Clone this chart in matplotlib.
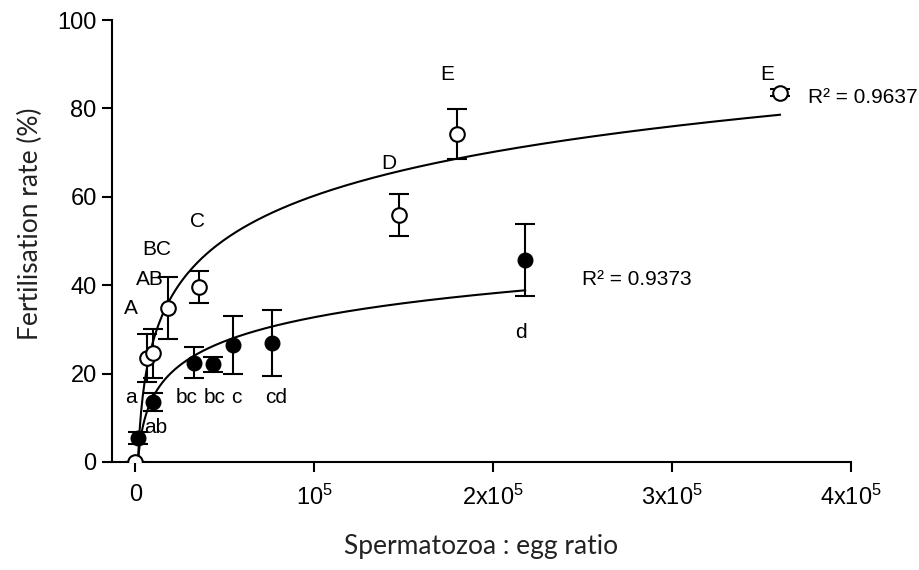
import numpy as np
import matplotlib.pyplot as plt

# sperm:egg ratio vs fertilisation rate, two treatments + log trendlines

# open circles (upper series)
x_open = [0, 6500, 9900, 18300, 35800, 147500, 180000, 360300]
y_open = [0, 23.5, 24.6, 34.8, 39.6, 55.9, 74.2, 83.5]
err_open = [0, 5.5, 5.5, 7.0, 3.6, 4.7, 5.7, 0.8]
letters_open = ['A', 'AB', 'BC', 'C', 'D', 'E', 'E']

# filled circles (lower series)
x_fill = [1800, 10200, 33100, 43700, 54900, 76700, 217900]
y_fill = [5.4, 13.5, 22.5, 22.1, 26.5, 26.9, 45.7]
err_fill = [1.3, 2.0, 3.5, 1.7, 6.5, 7.4, 8.2]
letters_fill = ['a', 'ab', 'bc', 'bc', 'c', 'cd', 'd']

# logarithmic trendlines y = a*ln(x) + b
fit_open = (14.3, -104.4)
fit_fill = (7.83, -57.4)
r2_open = '0.9637'
r2_fill = '0.9373'

xticks = [0, 1e5, 2e5, 3e5, 4e5]
xticklabels = ['0', r'$\mathregular{10^5}$', r'$\mathregular{2x10^5}$',
               r'$\mathregular{3x10^5}$', r'$\mathregular{4x10^5}$']

plt.rcParams['font.family'] = ['Liberation Sans', 'DejaVu Sans']

fig = plt.figure(figsize=(9.2, 5.7), dpi=100)
ax = fig.add_axes([0.1217, 0.1895, 0.8033, 0.7754])

lw = 1.5
# trendlines
xs = np.linspace(1500, x_open[-1], 400)
ax.plot(xs, fit_open[0] * np.log(xs) + fit_open[1], color='black', lw=lw, zorder=2)
xs = np.linspace(1500, x_fill[-1], 400)
ax.plot(xs, fit_fill[0] * np.log(xs) + fit_fill[1], color='black', lw=lw, zorder=2)

ax.errorbar(x_fill, y_fill, yerr=err_fill, fmt='o', color='black', mfc='black', mec='black',
            ms=10.5, elinewidth=lw, capsize=7, capthick=lw, zorder=3)
ax.errorbar(x_open, y_open, yerr=err_open, fmt='o', color='black', mfc='white', mec='black',
            mew=1.5, ms=10.5, elinewidth=lw, capsize=7, capthick=lw, zorder=4)

# significance letters
pos_open = [(-2200, 34.8), (8400, 41.2), (12300, 48.0), (34600, 54.3),
            (141900, 67.6), (174300, 87.6), (353000, 87.6)]
pos_fill = [(-2200, 14.5), (11200, 7.7), (29000, 14.5), (44100, 14.5),
            (56400, 14.5), (78800, 14.5), (215600, 29.4)]
for t, (px, py) in zip(letters_open, pos_open):
    ax.text(px, py, t, fontsize=15, ha='center', va='center')
for t, (px, py) in zip(letters_fill, pos_fill):
    ax.text(px, py, t, fontsize=15, ha='center', va='center')

ax.text(376000, 82.5, 'R² = ' + r2_open, fontsize=15, ha='left', va='center')
ax.text(249700, 41.2, 'R² = ' + r2_fill, fontsize=15, ha='left', va='center')

ax.set_xlim(-13000, 4e5)
ax.set_ylim(0, 100)
ax.set_xticks(xticks)
ax.set_xticklabels(xticklabels, fontsize=17)
ax.set_yticks([0, 20, 40, 60, 80, 100])
ax.tick_params(axis='y', labelsize=17, direction='out', length=7, width=lw, pad=4)
ax.tick_params(axis='x', direction='out', length=7, width=lw, pad=9)

for s in ['top', 'right']:
    ax.spines[s].set_visible(False)
for s in ['left', 'bottom']:
    ax.spines[s].set_linewidth(lw)
ax.patch.set_alpha(0)

ax.set_xlabel('Spermatozoa : egg ratio', fontsize=19, family=['Lato', 'DejaVu Sans'], color='#222222')
ax.set_ylabel('Fertilisation rate (%)', fontsize=19, family=['Lato', 'DejaVu Sans'], color='#222222')
ax.xaxis.set_label_coords(0.5, -0.163)
ax.yaxis.set_label_coords(-0.093, 0.54)

fig.savefig('out.png', dpi=100)
